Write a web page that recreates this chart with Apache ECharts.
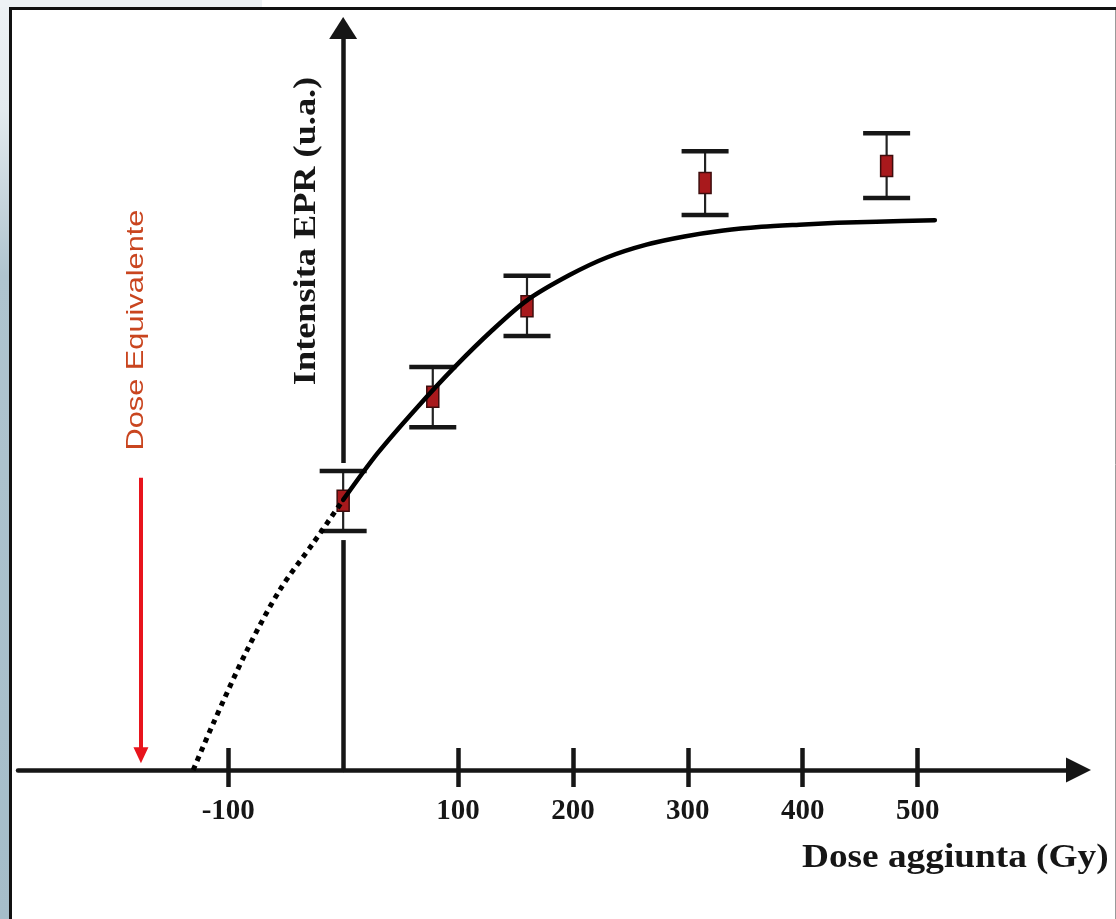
<!DOCTYPE html>
<html><head><meta charset="utf-8">
<script src="https://cdn.jsdelivr.net/npm/echarts@6/dist/echarts.min.js"></script>
<style>html,body{margin:0;padding:0;background:#fff;overflow:hidden}#c{width:1116px;height:919px}</style>
</head><body><div id="c"></div>
<script>
// ---- data ----
const xTickValues = [-100, 100, 200, 300, 400, 500];
const doses = [0, 78, 160, 315, 473];
const intensity = [36.3, 50.3, 62.5, 79.1, 81.4];
const errLow = [32.2, 46.2, 58.5, 74.8, 77.1];
const errHigh = [40.3, 54.3, 66.6, 83.4, 85.8];
const fitX = [0, 30, 64, 97, 130, 160, 197, 230, 264, 297, 331, 364, 397, 430, 464, 515];
const fitY = [36.4, 42.7, 48.8, 54.3, 59.3, 63.3, 66.7, 69.1, 70.8, 71.9, 72.7, 73.2, 73.5, 73.75, 73.9, 74.1];
const extrapX = [-130.5, -113, -83.5, -55, -26, 0];
const extrapY = [0, 6.3, 16.2, 24.3, 30.6, 36.4];
const equivDose = -176;
const equivArrowFrom = 39.4;
const equivArrowTo = 2.0;
const xTitle = 'Dose aggiunta (Gy)';
const yTitle = 'Intensita EPR (u.a.)';
const equivTitle = 'Dose Equivalente';

const chart = echarts.init(document.getElementById('c'), null, {renderer: 'canvas'});
const INK = '#161616';
const serif = '"Liberation Serif", "Times New Roman", serif';

const points = doses.map((d, i) => [d, intensity[i], errLow[i], errHigh[i]]);

function renderErr(params, api) {
  const x = api.value(0);
  const c = api.coord([x, api.value(1)]);
  const pl = api.coord([x, api.value(2)]);
  const ph = api.coord([x, api.value(3)]);
  const capW = 47, rw = 12, rh = 21;
  return {
    type: 'group',
    children: [
      {type: 'rect', shape: {x: c[0] - 4, y: ph[1] - 8, width: 8, height: pl[1] - ph[1] + 17}, style: {fill: '#ffffff'}},
      {type: 'line', shape: {x1: c[0], y1: ph[1], x2: c[0], y2: pl[1]}, style: {stroke: '#222', lineWidth: 2.2}},
      {type: 'line', shape: {x1: c[0] - capW / 2, y1: ph[1], x2: c[0] + capW / 2, y2: ph[1]}, style: {stroke: INK, lineWidth: 4.5}},
      {type: 'line', shape: {x1: c[0] - capW / 2, y1: pl[1], x2: c[0] + capW / 2, y2: pl[1]}, style: {stroke: INK, lineWidth: 4.5}},
      {type: 'rect', shape: {x: c[0] - rw / 2, y: c[1] - rh / 2, width: rw, height: rh}, style: {fill: '#a8191c', stroke: '#3d0c0c', lineWidth: 1.5}}
    ]
  };
}

const option = {
  animation: false,
  backgroundColor: '#ffffff',
  grid: {left: 18, right: 37.5, top: 28, bottom: 149, containLabel: false},
  xAxis: [
    {
      type: 'value', min: -283, max: 640, position: 'bottom',
      axisLine: {show: true, onZero: false, symbol: ['none', 'triangle'], symbolSize: [25, 25], lineStyle: {color: INK, width: 4.5}},
      axisTick: {show: true, customValues: xTickValues, inside: false, length: 17, lineStyle: {color: INK, width: 4.5}},
      axisLabel: {show: true, customValues: xTickValues, margin: 27, fontSize: 29, fontWeight: 'bold', fontFamily: serif, color: INK},
      splitLine: {show: false}
    },
    {
      type: 'value', min: -283, max: 640, position: 'bottom',
      axisLine: {show: false, onZero: false},
      axisTick: {show: true, customValues: xTickValues, inside: true, length: 22, lineStyle: {color: INK, width: 4.5}},
      axisLabel: {show: false},
      splitLine: {show: false}
    }
  ],
  yAxis: {
    type: 'value', min: 0, max: 100,
    axisLine: {show: true, onZero: true, onZeroAxisIndex: 0, symbol: ['none', 'triangle'], symbolSize: [28, 22], lineStyle: {color: INK, width: 4.5}},
    axisTick: {show: false}, axisLabel: {show: false}, splitLine: {show: false}
  },
  series: [
    {
      type: 'custom', name: 'misure', z: 2, xAxisIndex: 0,
      renderItem: renderErr,
      data: points
    },
    {
      type: 'line', name: 'fit', z: 3, xAxisIndex: 0,
      data: fitX.map((v, i) => [v, fitY[i]]),
      smooth: 0.3, showSymbol: false, symbol: 'none',
      lineStyle: {color: '#000', width: 4.5, cap: 'round', join: 'round'}
    },
    {
      type: 'line', name: 'estrapolazione', z: 3, xAxisIndex: 0,
      data: extrapX.map((v, i) => [v, extrapY[i]]),
      smooth: 0.3, showSymbol: false, symbol: 'none',
      lineStyle: {color: '#000', width: 5, type: [5, 5], cap: 'butt'}
    },
    {
      type: 'line', name: 'dose equivalente', z: 3, xAxisIndex: 0,
      data: [], symbol: 'none',
      markLine: {
        silent: true, animation: false,
        symbol: ['none', 'triangle'], symbolSize: [15, 16],
        label: {show: false},
        lineStyle: {color: '#e8141c', width: 4, type: 'solid'},
        data: [[{coord: [equivDose, equivArrowFrom]}, {coord: [equivDose, equivArrowTo]}]]
      }
    }
  ],
  graphic: [
    {type: 'rect', z: -10, shape: {x: 0, y: 0, width: 9, height: 919},
      style: {fill: new echarts.graphic.LinearGradient(0, 0, 0, 1, [
        {offset: 0, color: '#eef2f5'}, {offset: 0.12, color: '#e3eaee'}, {offset: 0.3, color: '#afc4cf'}, {offset: 1, color: '#a5bdc9'}])}},
    {type: 'rect', z: -10, shape: {x: 0, y: 0, width: 262, height: 7}, style: {fill: '#eef2f5'}},
    {type: 'line', z: 10, shape: {x1: 9, y1: 8.5, x2: 1116, y2: 8.5}, style: {stroke: '#111', lineWidth: 3}},
    {type: 'line', z: 10, shape: {x1: 10.5, y1: 7, x2: 10.5, y2: 919}, style: {stroke: '#111', lineWidth: 3}},
    {type: 'line', z: 10, shape: {x1: 1115.5, y1: 10, x2: 1115.5, y2: 919}, style: {stroke: '#9a9a9a', lineWidth: 1}},
    {type: 'text', z: 20, x: 307, y: 231, rotation: Math.PI / 2, scaleX: 1.17, scaleY: 1,
      style: {text: yTitle, fontSize: 31, fontWeight: 'bold', fontFamily: serif, fill: INK,
        align: 'center', verticalAlign: 'middle', textAlign: 'center', textVerticalAlign: 'middle'}},
    {type: 'text', z: 20, x: 136.5, y: 330, rotation: Math.PI / 2, scaleX: 1.28, scaleY: 1,
      style: {text: equivTitle, fontSize: 24, fontFamily: '"Liberation Sans", Arial, sans-serif', fill: '#c9451f',
        align: 'center', verticalAlign: 'middle', textAlign: 'center', textVerticalAlign: 'middle'}},
    {type: 'text', z: 20, x: 802, y: 858, scaleX: 1.13, scaleY: 1,
      style: {text: xTitle, fontSize: 33, fontWeight: 'bold', fontFamily: serif, fill: INK,
        align: 'left', verticalAlign: 'middle', textAlign: 'left', textVerticalAlign: 'middle'}}
  ]
};
chart.setOption(option);
</script>
</body></html>
